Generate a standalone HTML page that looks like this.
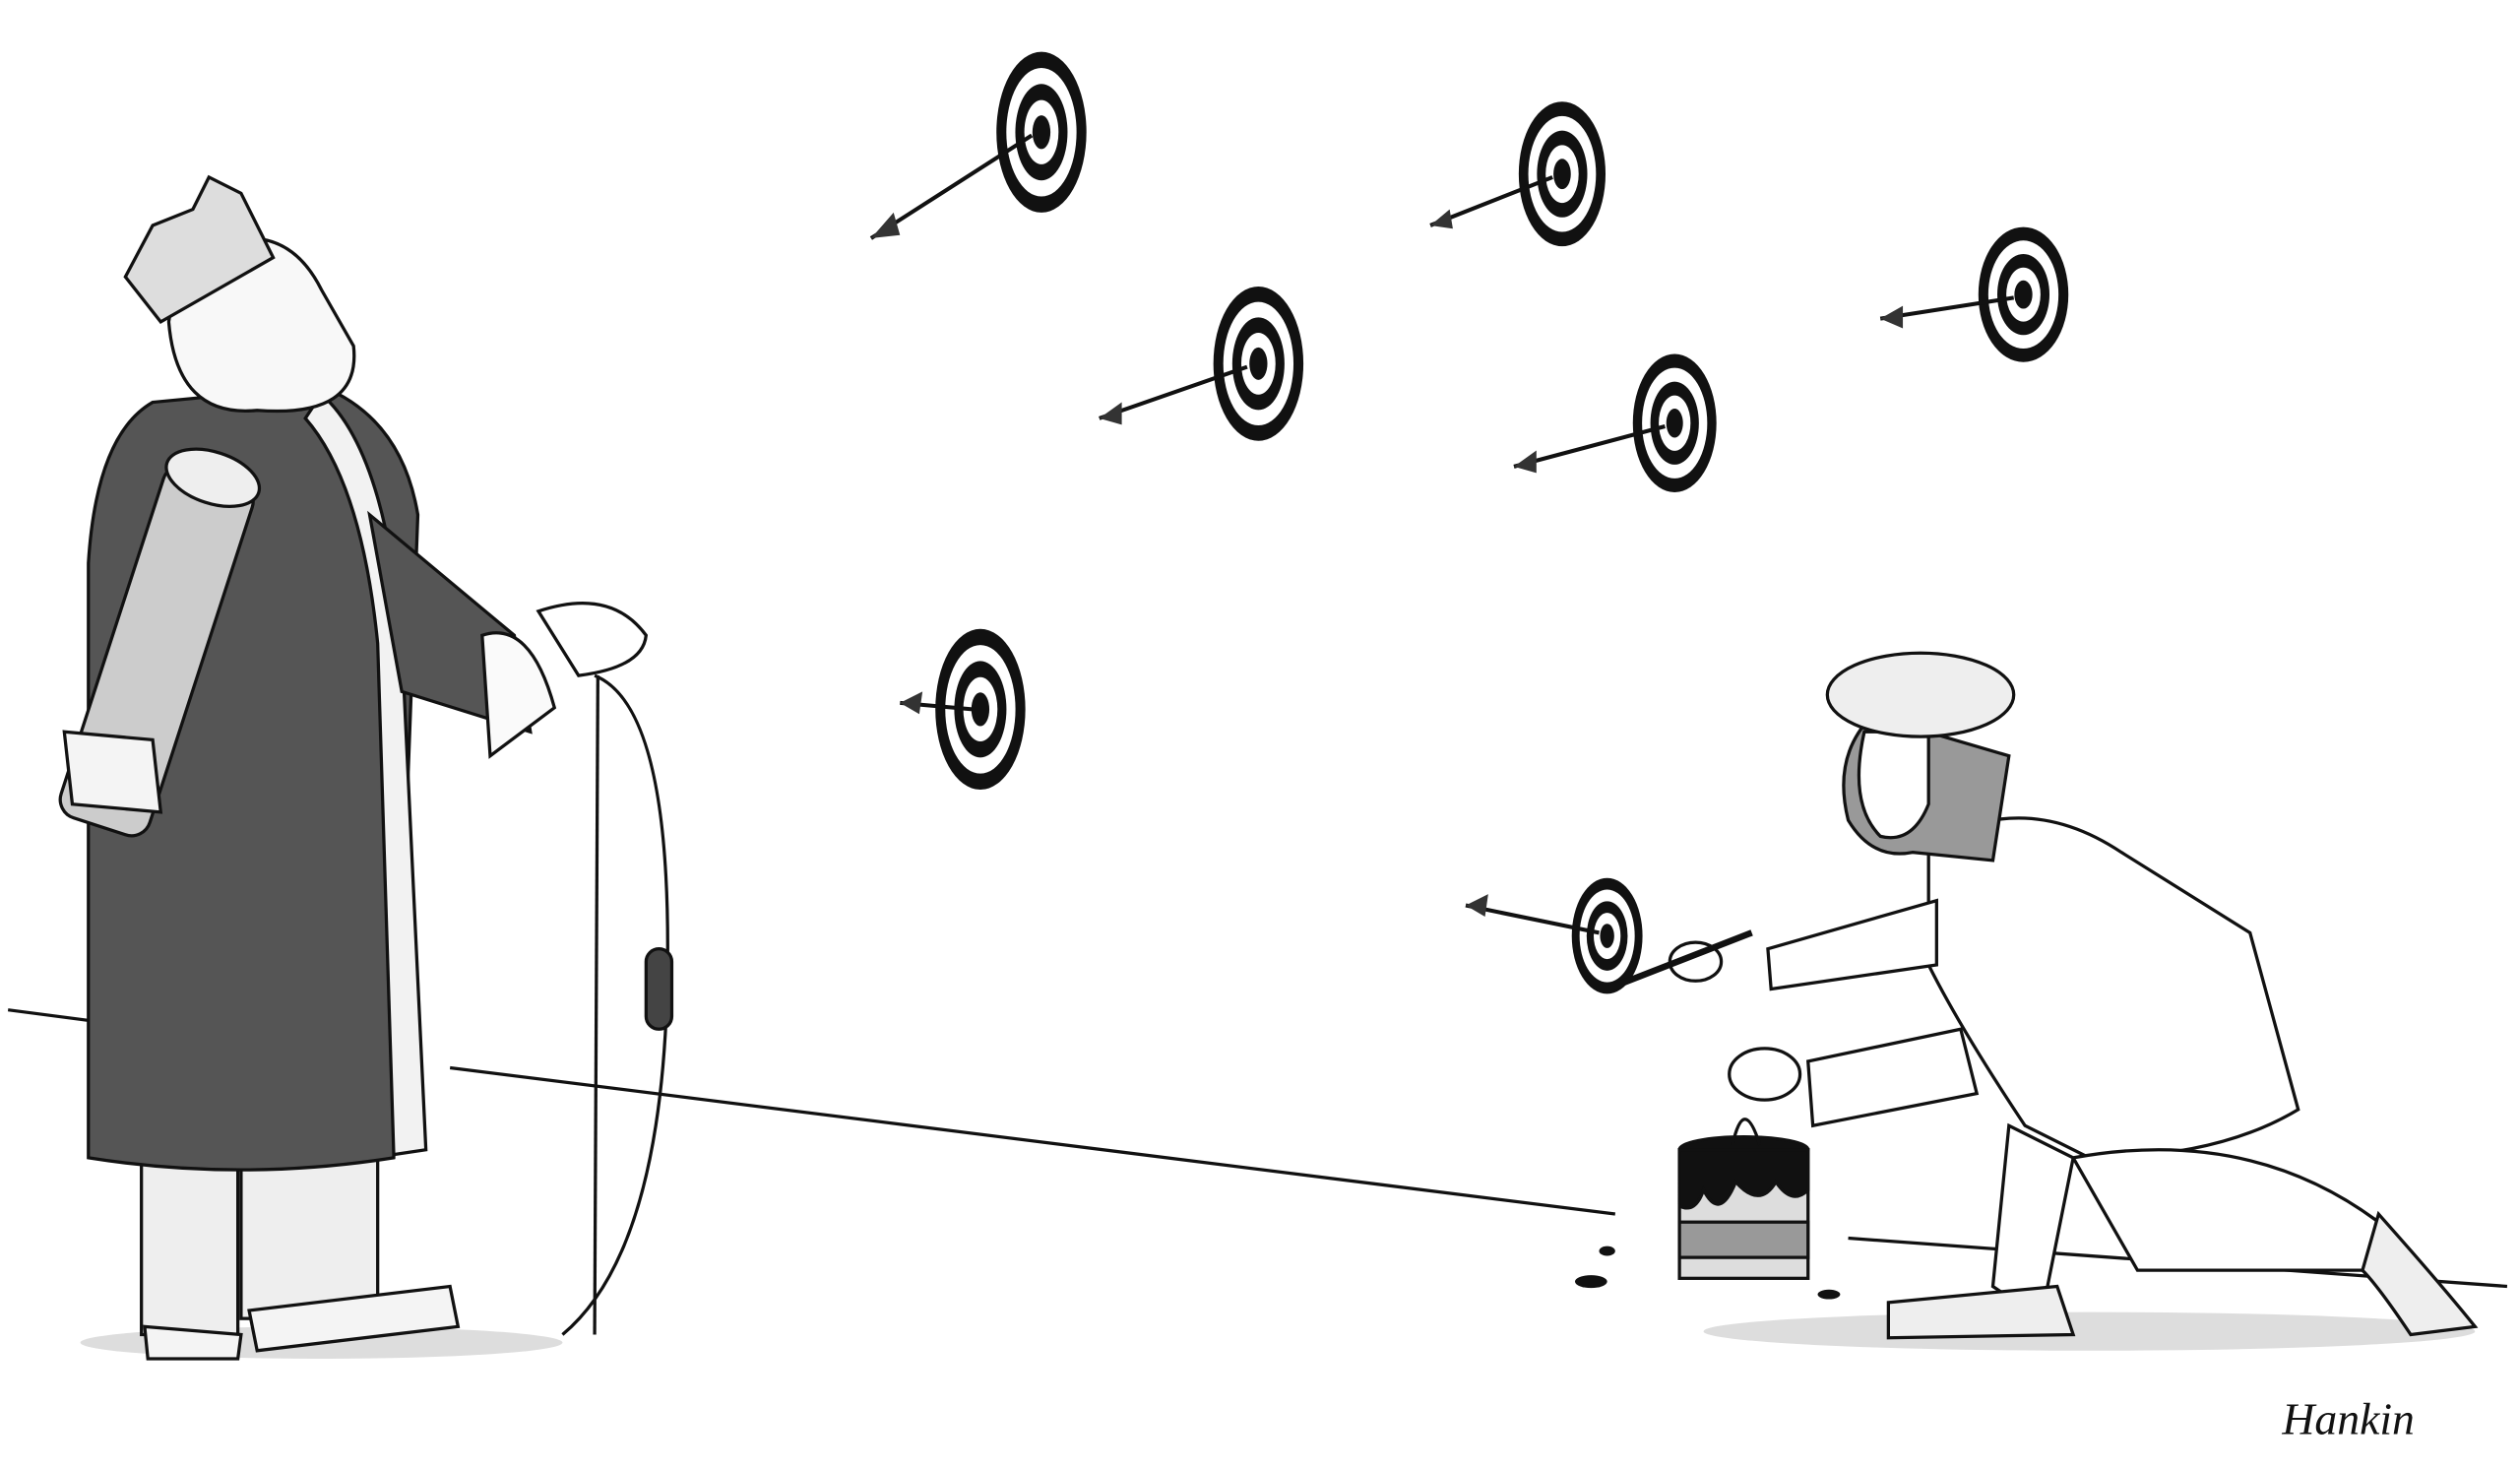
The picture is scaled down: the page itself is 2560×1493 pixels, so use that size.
<!DOCTYPE html>
<html><head><meta charset="utf-8"><style>
html,body{margin:0;padding:0;background:#fff;}
svg{display:block;}
</style></head><body>
<svg width="2560" height="1493" viewBox="0 0 1568 914" xmlns="http://www.w3.org/2000/svg">
<defs>
<g id="tg">
<ellipse cx="0" cy="0" rx="1" ry="1" fill="#111"/>
<ellipse cx="0" cy="0" rx="0.78" ry="0.8" fill="#fff"/>
<ellipse cx="0" cy="0" rx="0.58" ry="0.6" fill="#111"/>
<ellipse cx="0" cy="0" rx="0.38" ry="0.4" fill="#fff"/>
<ellipse cx="0" cy="0" rx="0.2" ry="0.21" fill="#111"/>
</g>
</defs>
<rect width="1568" height="914" fill="#fff"/>
<!-- ground line -->
<polyline points="5,628 250,660" stroke="#111" stroke-width="2" fill="none"/>
<polyline points="280,664 1005,755" stroke="#111" stroke-width="2" fill="none"/>
<polyline points="1150,770 1560,800" stroke="#111" stroke-width="2" fill="none"/>
<!-- shadows -->
<ellipse cx="200" cy="835" rx="150" ry="10" fill="#ddd"/>
<ellipse cx="1300" cy="828" rx="240" ry="12" fill="#ddd"/>
<!-- targets -->
<g transform="translate(648,82) scale(28,50)"><use href="#tg"/></g>
<g transform="translate(972,108) scale(27,45)"><use href="#tg"/></g>
<g transform="translate(783,226) scale(28,48)"><use href="#tg"/></g>
<g transform="translate(1259,183) scale(28,42)"><use href="#tg"/></g>
<g transform="translate(1042,263) scale(26,43)"><use href="#tg"/></g>
<g transform="translate(610,441) scale(28,50)"><use href="#tg"/></g>
<g transform="translate(1000,582) scale(22,36)"><use href="#tg"/></g>
<!-- arrows -->
<g stroke="#111" stroke-width="2.5" fill="none">
<line x1="642" y1="84" x2="542" y2="148"/>
<line x1="966" y1="110" x2="890" y2="140"/>
<line x1="776" y1="228" x2="684" y2="260"/>
<line x1="1253" y1="185" x2="1170" y2="198"/>
<line x1="1036" y1="265" x2="942" y2="290"/>
<line x1="605" y1="441" x2="560" y2="437"/>
<line x1="995" y1="580" x2="912" y2="563"/>
</g>
<g fill="#333">
<polygon points="542,148 556,132 560,146"/>
<polygon points="890,140 902,130 904,142"/>
<polygon points="684,260 698,250 698,264"/>
<polygon points="1170,198 1184,190 1184,204"/>
<polygon points="942,290 956,280 956,294"/>
<polygon points="560,437 574,430 572,444"/>
<polygon points="912,563 926,556 924,570"/>
</g>
<!-- King -->
<g stroke="#111" stroke-width="2">
<rect x="88" y="715" width="60" height="115" fill="#eee"/>
<rect x="150" y="715" width="85" height="105" fill="#eee"/>
<path d="M90,825 L150,830 L148,845 L92,845Z" fill="#f4f4f4"/>
<path d="M155,815 L280,800 L285,825 L160,840Z" fill="#f4f4f4"/>
<path d="M95,250 Q60,270 55,350 L55,720 Q150,735 245,720 L260,320 Q250,260 200,240 Z" fill="#555"/>
<path d="M200,245 Q240,280 250,400 L265,715 L245,718 L235,400 Q225,300 190,260Z" fill="#f2f2f2"/>
<path d="M230,320 L320,395 L330,455 L250,430Z" fill="#555"/>
<path d="M300,395 Q330,385 345,440 L305,470 Z" fill="#fafafa"/>
<path d="M335,380 Q380,365 402,395 Q400,415 360,420 Z" fill="#fff"/>
<g transform="rotate(18 100 400)">
<rect x="70" y="290" width="58" height="230" rx="12" fill="#ccc"/>
<ellipse cx="99" cy="292" rx="30" ry="16" fill="#eee"/>
</g>
<path d="M40,455 L95,460 L100,505 L45,500Z" fill="#f4f4f4"/>
<path d="M105,200 Q110,260 160,255 Q225,260 220,215 L200,180 Q180,140 140,150 Q110,165 105,200Z" fill="#f8f8f8"/>
<path d="M78,172 L95,140 L120,130 L130,110 L150,120 L170,160 L100,200Z" fill="#ddd"/>
<path d="M370,420 Q420,440 415,620 Q410,780 350,830" fill="none"/>
<line x1="372" y1="420" x2="370" y2="830"/>
<rect x="402" y="590" width="16" height="50" rx="8" fill="#444"/>
</g>
<!-- paint can -->
<g stroke="#111" stroke-width="2">
<rect x="1045" y="715" width="80" height="80" fill="#ddd"/>
<rect x="1045" y="760" width="80" height="22" fill="#999"/>
<ellipse cx="1085" cy="715" rx="40" ry="8" fill="#111"/>
<path d="M1045,715 L1045,750 Q1055,755 1060,740 Q1070,760 1080,735 Q1095,752 1105,735 Q1115,750 1125,740 L1125,715Z" fill="#111"/>
<path d="M1078,712 Q1085,680 1095,712" fill="none"/>
</g>
<g fill="#111">
<ellipse cx="990" cy="797" rx="10" ry="4"/><ellipse cx="1000" cy="778" rx="5" ry="3"/><ellipse cx="1138" cy="805" rx="7" ry="3"/>
</g>
<!-- archer -->
<g stroke="#111" stroke-width="2">
<path d="M1200,525 Q1260,490 1320,530 L1400,580 L1430,690 Q1380,720 1300,720 L1260,700 Q1220,640 1200,600Z" fill="#fff"/>
<path d="M1250,700 L1240,800 L1270,820 L1290,720Z" fill="#fff"/>
<path d="M1290,720 Q1400,700 1480,760 L1490,790 L1330,790Z" fill="#fff"/>
<path d="M1480,755 Q1520,800 1540,825 L1500,830 Q1480,800 1470,790Z" fill="#eee"/>
<path d="M1175,810 L1280,800 L1290,830 L1175,832Z" fill="#eee"/>
<path d="M1205,560 L1100,590 L1102,615 L1205,600Z" fill="#fff"/>
<path d="M1220,640 L1125,660 L1128,700 L1230,680Z" fill="#fff"/>
<ellipse cx="1055" cy="598" rx="16" ry="12" fill="#fff"/>
<ellipse cx="1098" cy="668" rx="22" ry="16" fill="#fff"/>
<line x1="1000" y1="615" x2="1090" y2="580" stroke-width="4"/>
<path d="M1165,445 Q1140,470 1150,510 Q1165,535 1190,530 L1240,535 L1250,470Z" fill="#999"/>
<path d="M1160,455 Q1150,500 1170,520 Q1190,525 1200,500 L1200,455Z" fill="#fff"/>
<ellipse cx="1195" cy="432" rx="58" ry="26" fill="#eee"/>
</g>
<text x="1420" y="892" font-family="Liberation Serif, serif" font-style="italic" font-size="28" fill="#111">Hankin</text>
</svg>
</body></html>
